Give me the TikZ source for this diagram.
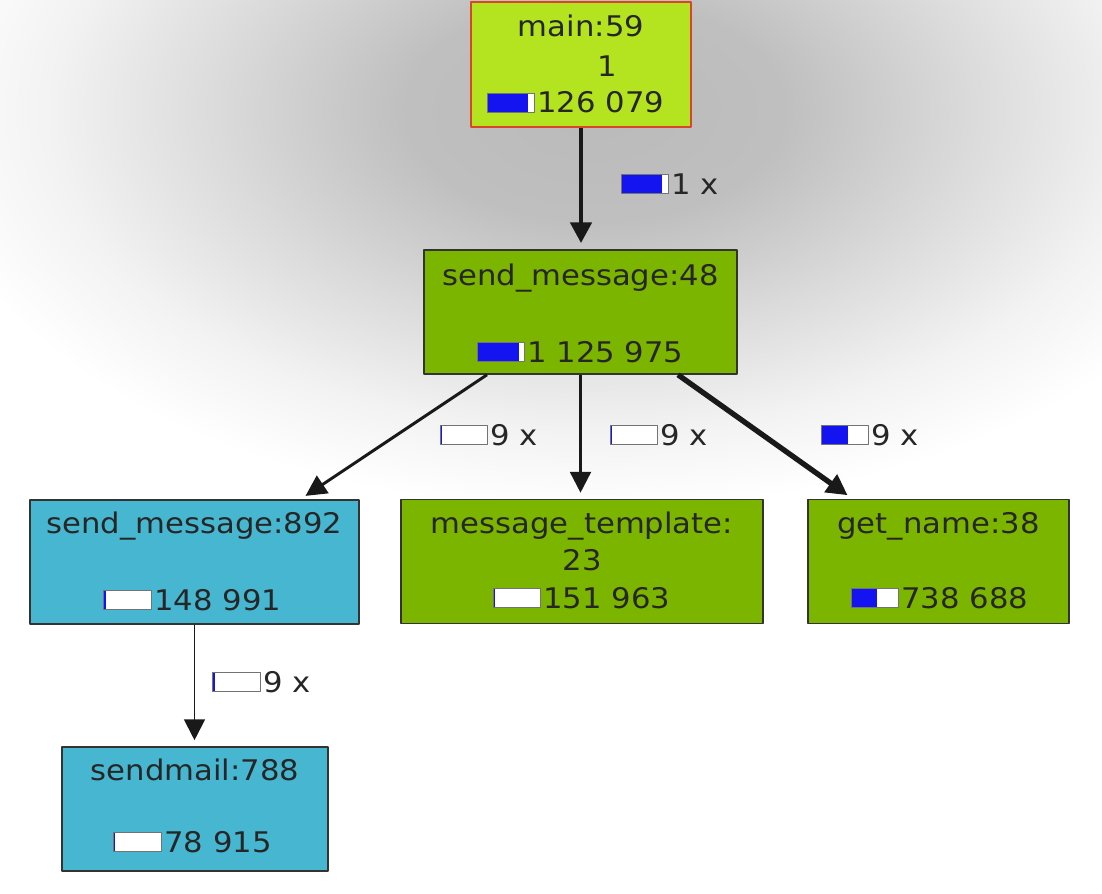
\documentclass[tikz,border=0pt]{standalone}
\usepackage{fontspec}
\setmainfont{DejaVu Sans}[FakeStretch=1.08]
\usetikzlibrary{arrows.meta}
\definecolor{limefill}{HTML}{B3E41F}
\definecolor{greenfill}{HTML}{7CB500}
\definecolor{cyanfill}{HTML}{47B6D0}
\definecolor{mainrim}{HTML}{D9452B}
\definecolor{barblue}{HTML}{1414F0}
\pgfdeclareradialshading{glow}{\pgfpoint{0bp}{0bp}}{color(0bp)=(black!27); color(7bp)=(black!25); color(14bp)=(black!14); color(20bp)=(black!5); color(25bp)=(white); color(50bp)=(white)}
\tikzset{
  fn/.style={draw=black!80,line width=1.1pt,minimum height=3.1cm,inner sep=0pt},
  txt/.style={inner sep=0pt,text=black!85,font=\fontsize{20.2}{24}\selectfont},
  call/.style={-{Triangle[length=0.52cm,width=0.52cm]},black!90,shorten >=0.15cm},
}
% cost bar left of a text node: #1 node, #2 blue part
\newcommand\costbar[2]{%
  \fill[white] ([xshift=-1.25cm,yshift=0.02cm]#1.base west) rectangle ([xshift=-0.075cm,yshift=0.49cm]#1.base west);
  \fill[barblue] ([xshift=-1.25cm,yshift=0.02cm]#1.base west) rectangle ([xshift={-1.25cm+#2*1.175cm},yshift=0.49cm]#1.base west);
  \draw[black!55,line width=0.7pt] ([xshift=-1.25cm,yshift=0.02cm]#1.base west) rectangle ([xshift=-0.075cm,yshift=0.49cm]#1.base west);}
\begin{document}
\begin{tikzpicture}[x=0.025cm,y=-0.025cm,line join=round]
\useasboundingbox (0,0) rectangle (1102,893);
\begin{scope}
  \clip (0,0) rectangle (1102,893);
  \fill[white] (0,0) rectangle (1102,893);
  \shade[shading=glow] (595,110) ellipse [x radius=17cm,y radius=10cm];
\end{scope}
% functions
\node[fn,fill=limefill,draw=mainrim,minimum width=5.5cm,minimum height=3.125cm] (main) at (581,64.5) {};
\node[fn,fill=greenfill,minimum width=7.825cm] (sm48) at (580.5,312) {};
\node[fn,fill=cyanfill,minimum width=8.225cm] (sm892) at (194.5,562) {};
\node[fn,fill=greenfill,minimum width=9.05cm] (tmpl) at (582,561.5) {};
\node[fn,fill=greenfill,minimum width=6.525cm] (name) at (938.5,561.5) {};
\node[fn,fill=cyanfill,minimum width=6.65cm] (mail) at (195,809) {};
% calls
\draw[call,line width=3.5pt] (main.south) -- (main.south |- sm48.north);
\draw[call,line width=2.1pt] ([shift={(-93.5,0)}]sm48.south) -- ([shift={(106,0)}]sm892.north);
\draw[call,line width=1.8pt] (sm48.south) -- (sm48.south |- tmpl.north);
\draw[call,line width=3.8pt] ([shift={(97.5,0)}]sm48.south) -- ([shift={(-86,0)}]name.north);
\draw[call,line width=1.4pt] (sm892.south) -- (sm892.south |- mail.north);
% texts
\node[txt,anchor=base] (mainT) at (581,37) {main:59};
\node[txt,anchor=base] (mainN) at (607,77) {1};
\node[txt,anchor=base west] (mainV) at (537,113) {126 079}; \costbar{mainV}{0.88}
\node[txt,anchor=base] (sm48T) at (580.5,285) {send\_message:48};
\node[txt,anchor=base west] (sm48V) at (527,362) {1 125 975}; \costbar{sm48V}{0.9}
\node[txt,anchor=base] (sm892T) at (194.5,533) {send\_message:892};
\node[txt,anchor=base west] (sm892V) at (154,610) {148 991}; \costbar{sm892V}{0.05}
\node[txt,anchor=base] (tmplT) at (582,533) {message\_template:};
\node[txt,anchor=base] (tmplN) at (582,570) {23};
\node[txt,anchor=base west] (tmplV) at (543,608) {151 963}; \costbar{tmplV}{0.05}
\node[txt,anchor=base] (nameT) at (938.5,533) {get\_name:38};
\node[txt,anchor=base west] (nameV) at (901,608) {738 688}; \costbar{nameV}{0.55}
\node[txt,anchor=base] (mailT) at (195,780) {sendmail:788};
\node[txt,anchor=base west] (mailV) at (164,852) {78 915}; \costbar{mailV}{0.03}
% call counts
\node[txt,anchor=base west] (c1) at (671,194) {1 x}; \costbar{c1}{0.88}
\node[txt,anchor=base west] (cL) at (490,445) {9 x}; \costbar{cL}{0.05}
\node[txt,anchor=base west] (cM) at (660,445) {9 x}; \costbar{cM}{0.05}
\node[txt,anchor=base west] (cR) at (871,445) {9 x}; \costbar{cR}{0.58}
\node[txt,anchor=base west] (cB) at (263,692) {9 x}; \costbar{cB}{0.04}
\end{tikzpicture}
\end{document}
